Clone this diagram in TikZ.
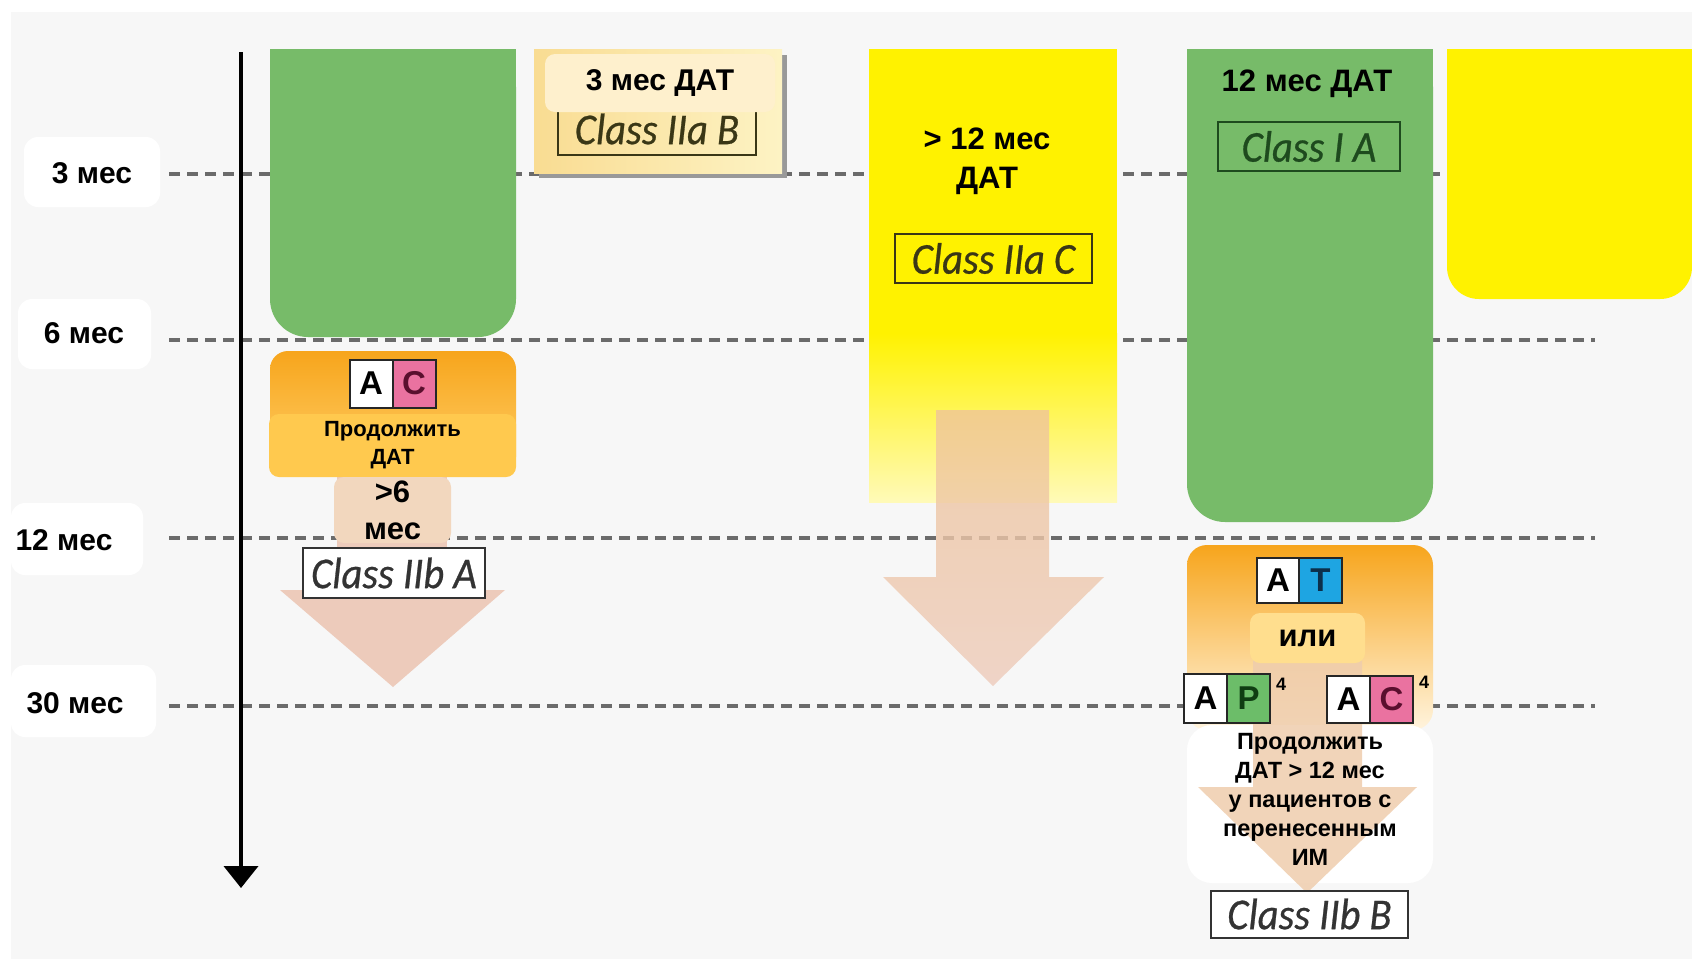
\documentclass[tikz,border=0pt]{standalone}
\usepackage{fontspec}
\setmainfont{Liberation Sans}
\newfontfamily\clsfamily[FakeStretch=0.92,FakeBold=0.6]{Carlito}
\usetikzlibrary{arrows.meta}
\definecolor{grn}{HTML}{77BB69}
\definecolor{ylw}{HTML}{FFF200}
\definecolor{ylwpale}{HTML}{FFFAB8}
\definecolor{org}{HTML}{F7A51C}
\definecolor{orglt}{HTML}{FFD06A}
\definecolor{orgfade}{HTML}{FFF4DE}
\definecolor{gold}{HTML}{FFC94E}
\definecolor{peach}{HTML}{F2D7BE}
\definecolor{arrowc}{HTML}{EDCBBB}
\definecolor{arrowtop}{HTML}{EFC49A}
\definecolor{arrowr}{HTML}{EFCDAD}
\definecolor{pinkc}{HTML}{EA72A0}
\definecolor{pinkt}{HTML}{5A0F2E}
\definecolor{bluec}{HTML}{1EA5E2}
\definecolor{bluet}{HTML}{0C2F4A}
\definecolor{greenc}{HTML}{6CBD69}
\definecolor{greent}{HTML}{0F3D12}
\definecolor{dashc}{HTML}{6B6B6B}
\definecolor{bg}{HTML}{F7F7F7}
\definecolor{olive}{HTML}{3A3716}
\definecolor{dkgreen}{HTML}{1E4A1E}
\definecolor{ilic}{HTML}{FFDE8E}
\definecolor{hdrL}{HTML}{F9DC92}
\definecolor{hdrR}{HTML}{FDF3C4}
\definecolor{hdrin}{HTML}{FEF0CD}
\definecolor{clsgray}{HTML}{333333}
\tikzset{
  dashln/.style={draw=dashc, line width=3.5pt, dash pattern=on 11pt off 7pt},
  lblbox/.style={fill=white, rounded corners=14pt, inner sep=0pt},
  lbl/.style={font=\fontsize{30}{30}\selectfont\bfseries, inner sep=0pt},
  head/.style={font=\fontsize{31}{39}\selectfont\bfseries, align=center, inner sep=0pt},
  clsbox/.style={draw, line width=2pt, inner sep=0pt, font=\clsfamily\itshape\fontsize{44}{44}\selectfont},
  cell/.style={draw=black!85, line width=2pt, minimum width=43pt, minimum height=48pt, inner sep=0pt, font=\fontsize{33}{33}\selectfont\bfseries},
  tbox/.style={rounded corners=10pt, inner sep=0pt, align=center},
  arr/.style={fill=arrowc}
}
\begin{document}
\begin{tikzpicture}[x=1pt,y=-1pt]
\useasboundingbox (0,0) rectangle (1692,959);
\fill[white] (0,0) rectangle (1692,959);
\fill[bg] (11,12) rectangle (1692,959);

% dashed month lines
\coordinate (d3a) at (169,174);  \coordinate (d3b) at (1595,174);
\coordinate (d6a) at (169,340);  \coordinate (d6b) at (1595,340);
\coordinate (d12a) at (169,538); \coordinate (d12b) at (1595,538);
\coordinate (d30a) at (169,706); \coordinate (d30b) at (1595,706);
\draw[dashln] (d3a) -- (d3b);
\draw[dashln] (d6a) -- (d6b);
\draw[dashln] (d12a) -- (d12b);
\draw[dashln] (d30a) -- (d30b);

% month labels
\node[lblbox, minimum width=136pt, minimum height=70pt] (b3) at (92,172) {};
\node[lbl] (l3) at (92,173) {3 мес};
\node[lblbox, minimum width=133pt, minimum height=70pt] (b6) at (84.5,334) {};
\node[lbl] (l6) at (84,333) {6 мес};
\node[lblbox, minimum width=132pt, minimum height=72pt] (b12) at (77,539) {};
\node[lbl] (l12) at (64,540) {12 мес};
\node[lblbox, minimum width=145pt, minimum height=72pt] (b30) at (83.5,701) {};
\node[lbl] (l30) at (75,703) {30 мес};

% left column
\fill[grn, rounded corners=38pt] (270,49) rectangle (516,337);
\fill[grn] (270,49) rectangle (516,150);
\shade[top color=org, bottom color=orglt, rounded corners=18pt] (270,351) rectangle (516,475);
\node[cell, fill=white] (lA) at (371,383.5) {A};
\node[cell, fill=pinkc, text=pinkt] (lC) at (414,383.5) {C};
\fill[arr] (337,470) rectangle (447,591);
\fill[arr] (280,590) -- (505,590) -- (393,687) -- cycle;
\node[tbox, fill=gold, minimum width=247pt, minimum height=63pt, font=\fontsize{22}{28}\selectfont\bfseries] (p1) at (392.5,445.5) {Продолжить\\ДАТ};
\node[tbox, fill=peach, minimum width=117pt, minimum height=66pt, font=\fontsize{31}{37}\selectfont\bfseries] (p6) at (392.5,510) {>6\\мес};
\node[clsbox, draw=clsgray, text=clsgray, fill=white, minimum width=182pt, minimum height=50pt] (cIIbA) at (394,573) {Class IIb A};

% 3 month DAT box
\fill[black!40] (539,55) rectangle (787,178);
\shade[left color=hdrL, right color=hdrR] (534,49) rectangle (782,173);
\node[clsbox, draw=olive, text=olive, minimum width=198pt, minimum height=52pt] (cIIaB) at (657,129) {\raisebox{-3pt}{Class IIa B}};
\node[tbox, fill=hdrin, minimum width=230pt, minimum height=58pt, font=\fontsize{30}{30}\selectfont\bfseries] (h3) at (660,83) {3 мес ДАТ};

% middle column
\fill[ylw] (869,49) rectangle (1117,334);
\shade[top color=ylw, bottom color=ylwpale] (869,333) rectangle (1117,502);
\node[head] (h12p) at (987,161) {> 12 мес\\ДАТ};
\node[clsbox, draw=olive, text=olive, minimum width=197pt, minimum height=49pt] (cIIaC) at (993.5,258.5) {Class IIa C};
\shade[top color=arrowtop, bottom color=arrowc, opacity=0.8] (936,410) -- (1049,410) -- (1049,577) -- (1104,577) -- (993,686) -- (883,577) -- (936,577) -- cycle;

% right green column
\fill[grn, rounded corners=38pt] (1187,49) rectangle (1433,522);
\fill[grn] (1187,49) rectangle (1433,300);
\node[head] (h12) at (1307,84) {12 мес ДАТ};
\node[clsbox, draw=dkgreen, text=dkgreen, minimum width=182pt, minimum height=49pt] (cIA) at (1309,146.5) {Class I A};

% far right yellow
\fill[ylw, rounded corners=32pt] (1447,49) rectangle (1692,299);
\fill[ylw] (1447,49) rectangle (1692,200);

% right lower column
\shade[top color=org, bottom color=orgfade, rounded corners=20pt] (1187,545) rectangle (1433,730);
\node[fill=white, rounded corners=25pt, minimum width=246pt, minimum height=158pt, inner sep=0pt] (wbox) at (1310,804) {};
\fill[arrowr, opacity=0.85] (1253,640) -- (1362,640) -- (1362,787) -- (1417,787) -- (1307,893) -- (1198,787) -- (1253,787) -- cycle;
\node[tbox, fill=ilic, minimum width=115pt, minimum height=50pt, font=\fontsize{31}{31}\selectfont\bfseries] (ili) at (1307.5,638) {или};
\node[cell, fill=white, minimum width=42pt, minimum height=45pt] (rA1) at (1278,580.5) {A};
\node[cell, fill=bluec, text=bluet, minimum width=43pt, minimum height=45pt] (rT) at (1320.5,580.5) {T};
\node[cell, fill=white, minimum height=49pt] (rA2) at (1205.5,698.5) {A};
\node[cell, fill=greenc, text=greent, minimum height=49pt] (rP) at (1248.5,698.5) {P};
\node[font=\fontsize{18}{18}\selectfont\bfseries, inner sep=0pt] (s1) at (1281,684) {4};
\node[cell, fill=white, minimum height=47pt] (rA3) at (1348.5,699.5) {A};
\node[cell, fill=pinkc, text=pinkt, minimum height=47pt] (rC) at (1391.5,699.5) {C};
\node[font=\fontsize{18}{18}\selectfont\bfseries, inner sep=0pt] (s2) at (1424,682) {4};
\node[align=center, inner sep=0pt, font=\fontsize{23.5}{29}\selectfont\bfseries] (wtxt) at (1310,799) {Продолжить\\ДАТ > 12 мес\\у пациентов с\\перенесенным\\ИМ};
\node[clsbox, draw=clsgray, text=clsgray, fill=white, minimum width=197pt, minimum height=47pt] (cIIbB) at (1309.5,914) {Class IIb B};

% time axis
\coordinate (ax0) at (241,52);
\coordinate (ax1) at (241,888);
\draw[line width=4pt, -{Triangle[width=34pt,length=22pt]}] (ax0) -- (ax1);
\end{tikzpicture}
\end{document}
